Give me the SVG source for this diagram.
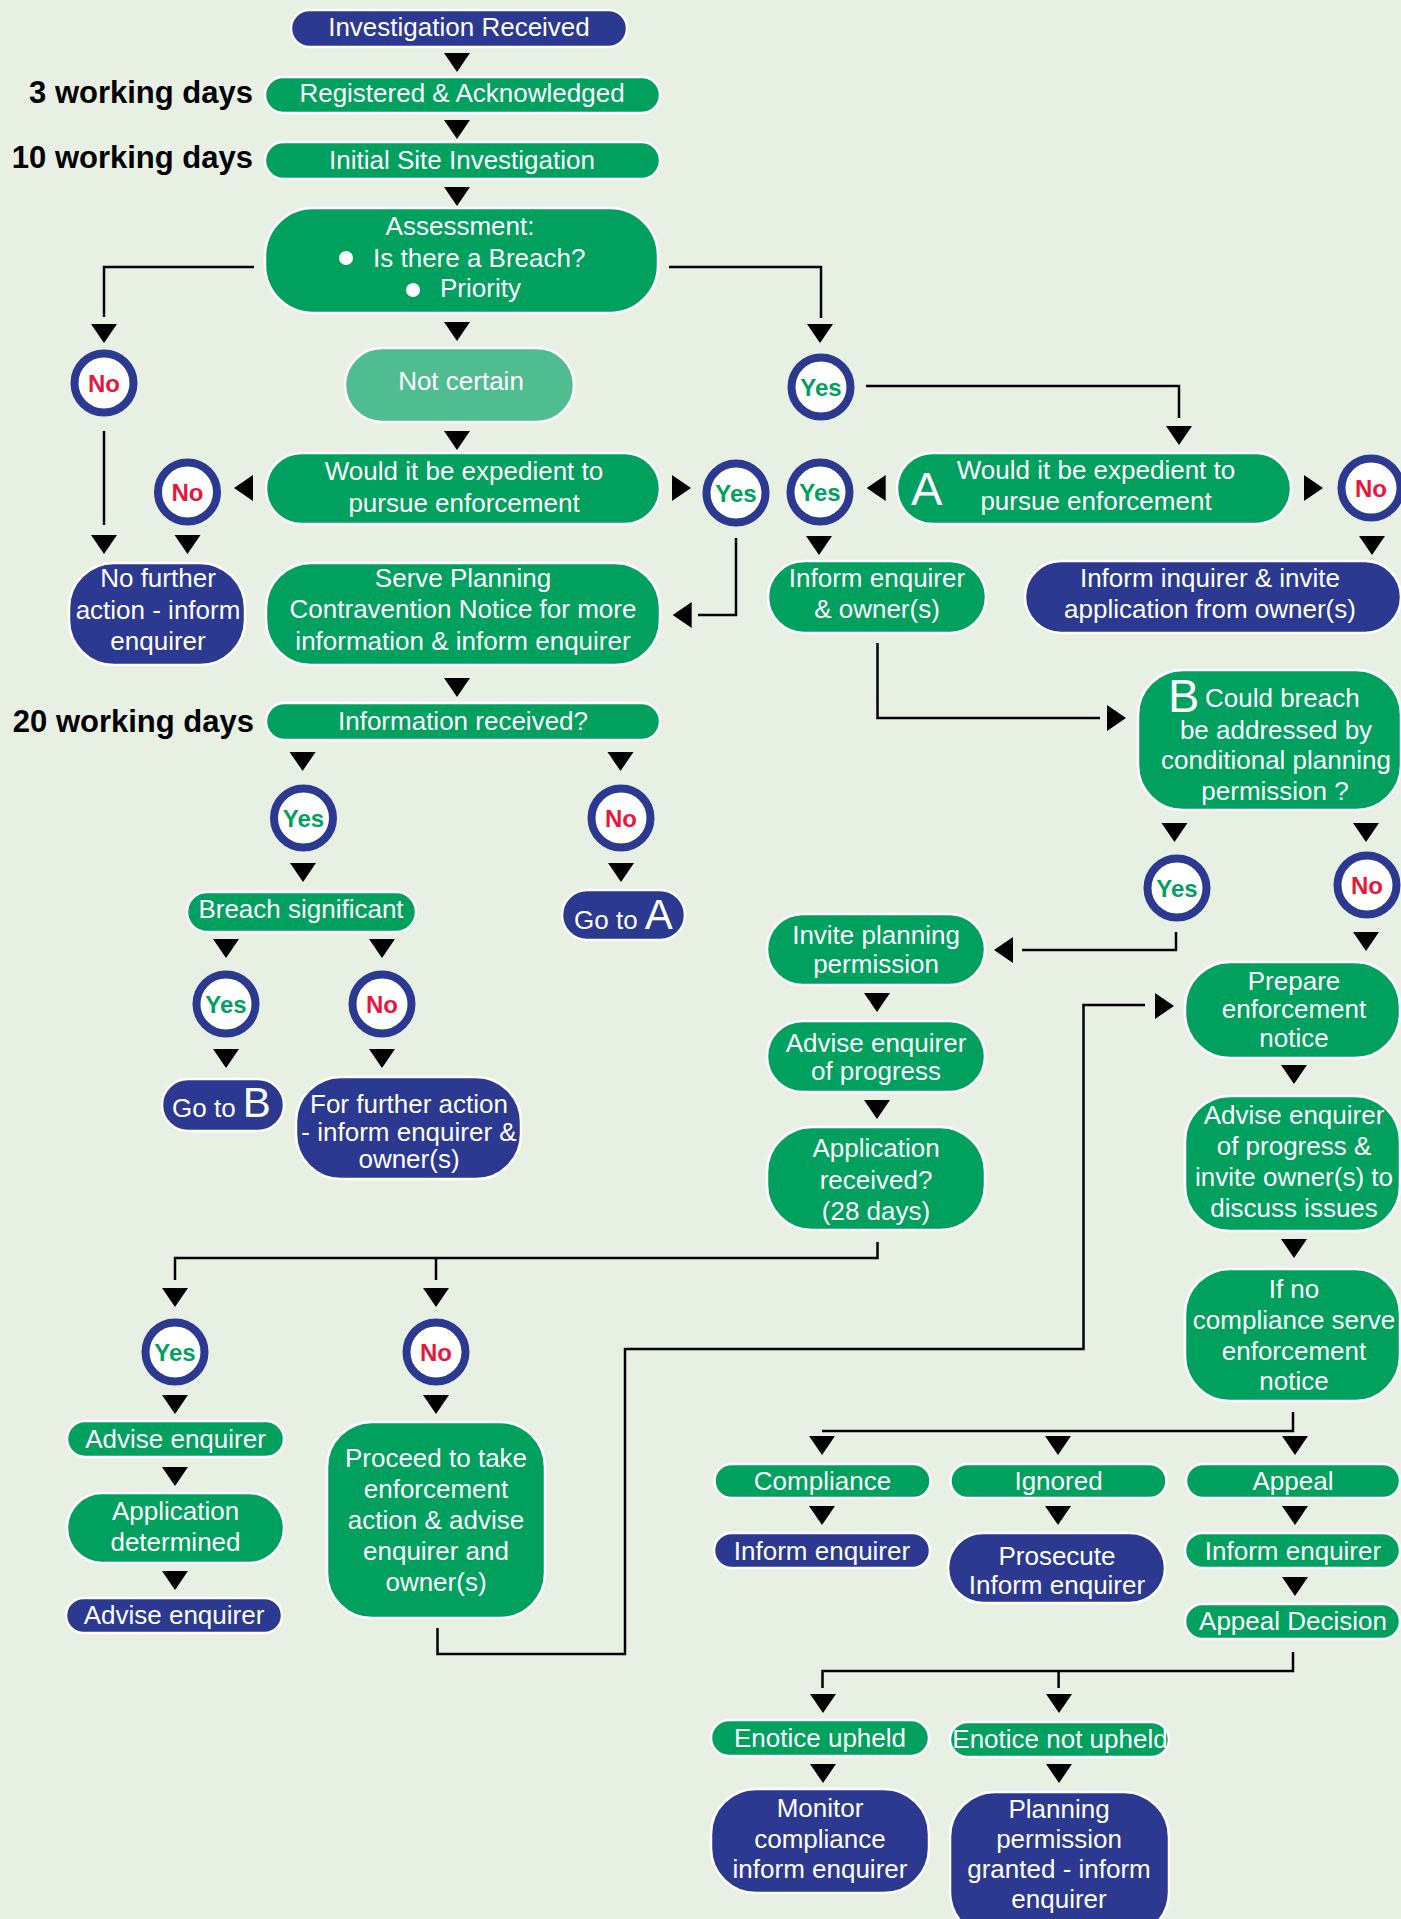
<svg xmlns="http://www.w3.org/2000/svg" xmlns:xlink="http://www.w3.org/1999/xlink" width="1401" height="1919" viewBox="0 0 1401 1919">
<style>
.g{fill:#00a05f;stroke:#fff;stroke-width:2.5}
.b{fill:#2b3990;stroke:#fff;stroke-width:2.5}
.lg{fill:#4fbd8f;stroke:#fff;stroke-width:2.5}
text{font-family:'Liberation Sans',Arial,Helvetica,sans-serif}
.t{font-size:26px;fill:#fff;text-anchor:middle}
.ts{font-size:26px;fill:#fff}
.big{font-size:47px;fill:#fff}
.lbl{font-size:31px;font-weight:bold;fill:#000;text-anchor:end}
.c{fill:#fff;stroke:#2b3990;stroke-width:8}
.yes{font-size:24px;font-weight:bold;fill:#00a05f;text-anchor:middle}
.no{font-size:24px;font-weight:bold;fill:#e5173d;text-anchor:middle}
.ln{fill:none;stroke:#000;stroke-width:2.5}
.ar{fill:#000}
</style>
<defs>
<path id="dn" d="M-13,0 L13,0 L0,19 Z"/>
<path id="lt" d="M0,-13 L0,13 L-19,0 Z"/>
<path id="rt" d="M0,-13 L0,13 L19,0 Z"/>
</defs>
<rect width="1401" height="1919" fill="#e8f0e4"/>

<g id="labels">
<text class="lbl" x="253" y="103">3 working days</text>
<text class="lbl" x="253" y="168">10 working days</text>
<text class="lbl" x="254" y="732">20 working days</text>
</g>

<g id="connectors">
<path class="ln" d="M254,267 H104 V317"/>
<path class="ln" d="M669,267 H821 V318"/>
<path class="ln" d="M104,431 V525"/>
<path class="ln" d="M866,386 H1179 V418"/>
<path class="ln" d="M736,538 V615 H698"/>
<path class="ln" d="M877.5,643 V718 H1100"/>
<path class="ln" d="M1176,932 V950 H1022"/>
<path class="ln" d="M877.5,1242 V1258 H175 V1280 M436,1258 V1280"/>
<path class="ln" d="M437.5,1628 V1654 H625 V1349 H1083.5 V1005 H1145"/>
<path class="ln" d="M1293,1412 V1431 H822"/>
<path class="ln" d="M1293,1652 V1671 H822.5 V1688 M1058.6,1671 V1688"/>
<g class="ar">
<use xlink:href="#dn" x="457" y="53"/>
<use xlink:href="#dn" x="457" y="120"/>
<use xlink:href="#dn" x="457" y="187"/>
<use xlink:href="#dn" x="104" y="324"/>
<use xlink:href="#dn" x="820" y="324"/>
<use xlink:href="#dn" x="457" y="322"/>
<use xlink:href="#dn" x="457" y="431"/>
<use xlink:href="#dn" x="104" y="535"/>
<use xlink:href="#dn" x="187.5" y="535"/>
<use xlink:href="#dn" x="1179" y="426"/>
<use xlink:href="#dn" x="819" y="536"/>
<use xlink:href="#dn" x="1372" y="536"/>
<use xlink:href="#dn" x="457" y="678"/>
<use xlink:href="#dn" x="302.6" y="752"/>
<use xlink:href="#dn" x="620.5" y="752"/>
<use xlink:href="#dn" x="303" y="863"/>
<use xlink:href="#dn" x="621" y="863"/>
<use xlink:href="#dn" x="226" y="939"/>
<use xlink:href="#dn" x="382" y="939"/>
<use xlink:href="#dn" x="226" y="1049"/>
<use xlink:href="#dn" x="382" y="1049"/>
<use xlink:href="#dn" x="1174.5" y="823"/>
<use xlink:href="#dn" x="1366" y="823"/>
<use xlink:href="#dn" x="1366" y="932"/>
<use xlink:href="#dn" x="877" y="993"/>
<use xlink:href="#dn" x="877" y="1100"/>
<use xlink:href="#dn" x="175" y="1288"/>
<use xlink:href="#dn" x="436" y="1288"/>
<use xlink:href="#dn" x="175" y="1395"/>
<use xlink:href="#dn" x="436" y="1395"/>
<use xlink:href="#dn" x="175" y="1467"/>
<use xlink:href="#dn" x="175" y="1571"/>
<use xlink:href="#dn" x="1294" y="1065"/>
<use xlink:href="#dn" x="1294" y="1239"/>
<use xlink:href="#dn" x="822" y="1436"/>
<use xlink:href="#dn" x="1058" y="1436"/>
<use xlink:href="#dn" x="1295" y="1436"/>
<use xlink:href="#dn" x="822" y="1506"/>
<use xlink:href="#dn" x="1058" y="1506"/>
<use xlink:href="#dn" x="1295" y="1506"/>
<use xlink:href="#dn" x="1295" y="1577"/>
<use xlink:href="#dn" x="823" y="1694"/>
<use xlink:href="#dn" x="1059" y="1694"/>
<use xlink:href="#dn" x="823" y="1764"/>
<use xlink:href="#dn" x="1059" y="1764"/>
<use xlink:href="#lt" x="253" y="488"/>
<use xlink:href="#lt" x="885.7" y="488"/>
<use xlink:href="#lt" x="691.7" y="615"/>
<use xlink:href="#lt" x="1013" y="950"/>
<use xlink:href="#rt" x="672" y="488"/>
<use xlink:href="#rt" x="1304" y="488"/>
<use xlink:href="#rt" x="1107" y="718"/>
<use xlink:href="#rt" x="1155" y="1006"/>
</g>
</g>

<g id="n-investigation"><rect class="b" x="291" y="10" width="336" height="37" rx="18.5"/><text class="t" x="459" y="36">Investigation Received</text></g>
<g id="n-registered"><rect class="g" x="265" y="77" width="395" height="36" rx="18"/><text class="t" x="462" y="102">Registered &amp; Acknowledged</text></g>
<g id="n-initial"><rect class="g" x="265" y="142" width="395" height="37" rx="18.5"/><text class="t" x="462" y="169">Initial Site Investigation</text></g>
<g id="n-assessment"><rect class="g" x="265" y="208" width="393" height="105" rx="48"/>
<text class="t" x="460" y="235">Assessment:</text>
<circle cx="346" cy="258" r="7" fill="#fff"/><text class="ts" x="373" y="267">Is there a Breach?</text>
<circle cx="413" cy="290" r="7" fill="#fff"/><text class="ts" x="440" y="297">Priority</text></g>
<g id="n-notcertain"><rect class="lg" x="345" y="348" width="229" height="74" rx="37"/><text class="t" x="461" y="390">Not certain</text></g>
<g id="n-expedient1"><rect class="g" x="266" y="453" width="394" height="71" rx="35.5"/><text class="t" x="464" y="480">Would it be expedient to</text><text class="t" x="464" y="512">pursue enforcement</text></g>
<g id="n-nofurther"><rect class="b" x="69" y="563" width="176" height="102" rx="45"/><text class="t" x="158" y="587">No further</text><text class="t" x="158" y="619">action - inform</text><text class="t" x="158" y="650">enquirer</text></g>
<g id="n-serve"><rect class="g" x="266" y="563" width="394" height="102" rx="45"/><text class="t" x="463" y="587">Serve Planning</text><text class="t" x="463" y="618">Contravention Notice for more</text><text class="t" x="463" y="650">information &amp; inform enquirer</text></g>
<g id="n-inforeceived"><rect class="g" x="266" y="703" width="394" height="37" rx="18.5"/><text class="t" x="463" y="730">Information received?</text></g>
<g id="n-breach"><rect class="g" x="187" y="892" width="229" height="40" rx="20"/><text class="t" x="301" y="918">Breach significant</text></g>
<g id="n-gotoA"><rect class="b" x="562" y="890" width="123" height="50" rx="25"/><text class="ts" x="574" y="929">Go to <tspan font-size="42">A</tspan></text></g>
<g id="n-gotoB"><rect class="b" x="162" y="1079" width="122" height="52" rx="26"/><text class="ts" x="172" y="1117">Go to <tspan font-size="42">B</tspan></text></g>
<g id="n-furtheraction"><rect class="b" x="296" y="1077" width="225" height="102" rx="45"/><text class="t" x="409" y="1113">For further action</text><text class="t" x="409" y="1141">- inform enquirer &amp;</text><text class="t" x="409" y="1168">owner(s)</text></g>
<g id="n-expedientA"><rect class="g" x="897" y="453" width="394" height="71" rx="35.5"/><text class="big" x="911" y="505" font-size="48">A</text><text class="t" x="1096" y="479">Would it be expedient to</text><text class="t" x="1096" y="510">pursue enforcement</text></g>
<g id="n-informowners"><rect class="g" x="768" y="561" width="218" height="72" rx="36"/><text class="t" x="877" y="587">Inform enquirer</text><text class="t" x="877" y="618">&amp; owner(s)</text></g>
<g id="n-inviteapp"><rect class="b" x="1025" y="561" width="376" height="72" rx="36"/><text class="t" x="1210" y="587">Inform inquirer &amp; invite</text><text class="t" x="1210" y="618">application from owner(s)</text></g>
<g id="n-B"><rect class="g" x="1138" y="670" width="263" height="140" rx="45"/><text class="big" x="1168" y="712">B</text><text class="ts" x="1205" y="707">Could breach</text><text class="t" x="1276" y="739">be addressed by</text><text class="t" x="1276" y="769">conditional planning</text><text class="t" x="1275" y="800">permission ?</text></g>
<g id="n-inviteplanning"><rect class="g" x="767" y="914" width="218" height="71" rx="35.5"/><text class="t" x="876" y="944">Invite planning</text><text class="t" x="876" y="973">permission</text></g>
<g id="n-adviseprogress"><rect class="g" x="767" y="1021" width="218" height="71" rx="35.5"/><text class="t" x="876" y="1052">Advise enquirer</text><text class="t" x="876" y="1080">of progress</text></g>
<g id="n-appreceived"><rect class="g" x="767" y="1127" width="218" height="103" rx="45"/><text class="t" x="876" y="1157">Application</text><text class="t" x="876" y="1189">received?</text><text class="t" x="876" y="1220">(28 days)</text></g>
<g id="n-prepare"><rect class="g" x="1185" y="962" width="215" height="96" rx="45"/><text class="t" x="1294" y="990">Prepare</text><text class="t" x="1294" y="1018">enforcement</text><text class="t" x="1294" y="1047">notice</text></g>
<g id="n-adviseinvite"><rect class="g" x="1185" y="1096" width="215" height="135" rx="45"/><text class="t" x="1294" y="1124">Advise enquirer</text><text class="t" x="1294" y="1155">of progress &amp;</text><text class="t" x="1294" y="1186">invite owner(s) to</text><text class="t" x="1294" y="1217">discuss issues</text></g>
<g id="n-ifno"><rect class="g" x="1185" y="1269" width="215" height="132" rx="45"/><text class="t" x="1294" y="1298">If no</text><text class="t" x="1294" y="1329">compliance serve</text><text class="t" x="1294" y="1360">enforcement</text><text class="t" x="1294" y="1390">notice</text></g>
<g id="n-advise1"><rect class="g" x="67" y="1421" width="217" height="36" rx="18"/><text class="t" x="175.5" y="1448">Advise enquirer</text></g>
<g id="n-appdetermined"><rect class="g" x="67" y="1493" width="217" height="70" rx="35"/><text class="t" x="175.5" y="1520">Application</text><text class="t" x="175.5" y="1551">determined</text></g>
<g id="n-advise2"><rect class="b" x="66" y="1598" width="216" height="35" rx="17.5"/><text class="t" x="174" y="1624">Advise enquirer</text></g>
<g id="n-proceed"><rect class="g" x="327" y="1422" width="218" height="196" rx="45"/><text class="t" x="436" y="1467">Proceed to take</text><text class="t" x="436" y="1498">enforcement</text><text class="t" x="436" y="1529">action &amp; advise</text><text class="t" x="436" y="1560">enquirer and</text><text class="t" x="436" y="1591">owner(s)</text></g>
<g id="n-compliance"><rect class="g" x="714.5" y="1464" width="216" height="34" rx="17"/><text class="t" x="822.5" y="1490">Compliance</text></g>
<g id="n-ignored"><rect class="g" x="950.5" y="1464" width="216" height="34" rx="17"/><text class="t" x="1058.5" y="1490">Ignored</text></g>
<g id="n-appeal"><rect class="g" x="1186" y="1464" width="214" height="34" rx="17"/><text class="t" x="1293" y="1490">Appeal</text></g>
<g id="n-informC"><rect class="b" x="714" y="1533" width="216" height="35" rx="17.5"/><text class="t" x="822" y="1560">Inform enquirer</text></g>
<g id="n-prosecute"><rect class="b" x="948" y="1533" width="217" height="70" rx="35"/><text class="t" x="1057" y="1565">Prosecute</text><text class="t" x="1057" y="1594">Inform enquirer</text></g>
<g id="n-informA"><rect class="g" x="1185" y="1533" width="215" height="35" rx="17.5"/><text class="t" x="1293" y="1560">Inform enquirer</text></g>
<g id="n-appealdecision"><rect class="g" x="1185" y="1604" width="215" height="35" rx="17.5"/><text class="t" x="1293" y="1630">Appeal Decision</text></g>
<g id="n-upheld"><rect class="g" x="711" y="1720" width="218" height="36" rx="18"/><text class="t" x="820" y="1747">Enotice upheld</text></g>
<g id="n-notupheld"><rect class="g" x="950" y="1722" width="219" height="35" rx="17.5"/><text class="t" x="1060" y="1748">Enotice not upheld</text></g>
<g id="n-monitor"><rect class="b" x="711" y="1789" width="218" height="104" rx="45"/><text class="t" x="820" y="1817">Monitor</text><text class="t" x="820" y="1848">compliance</text><text class="t" x="820" y="1878">inform enquirer</text></g>
<g id="n-planning"><rect class="b" x="950" y="1792" width="219" height="145" rx="45"/><text class="t" x="1059" y="1818">Planning</text><text class="t" x="1059" y="1848">permission</text><text class="t" x="1059" y="1878">granted - inform</text><text class="t" x="1059" y="1908">enquirer</text></g>

<g id="d-no1"><circle class="c" cx="104" cy="383" r="29.5"/><text class="no" x="104" y="391.5">No</text></g>
<g id="d-yes1"><circle class="c" cx="821" cy="387" r="29.5"/><text class="yes" x="821" y="395.5">Yes</text></g>
<g id="d-no2"><circle class="c" cx="187.5" cy="492" r="29.5"/><text class="no" x="187.5" y="500.5">No</text></g>
<g id="d-yes2"><circle class="c" cx="736" cy="493" r="29.5"/><text class="yes" x="736" y="501.5">Yes</text></g>
<g id="d-yes3"><circle class="c" cx="820" cy="492" r="29.5"/><text class="yes" x="820" y="500.5">Yes</text></g>
<g id="d-no3"><circle class="c" cx="1371" cy="488" r="29.5"/><text class="no" x="1371" y="496.5">No</text></g>
<g id="d-yes4"><circle class="c" cx="303.5" cy="818" r="29.5"/><text class="yes" x="303.5" y="826.5">Yes</text></g>
<g id="d-no4"><circle class="c" cx="621" cy="818" r="29.5"/><text class="no" x="621" y="826.5">No</text></g>
<g id="d-yes5"><circle class="c" cx="226" cy="1004" r="29.5"/><text class="yes" x="226" y="1012.5">Yes</text></g>
<g id="d-no5"><circle class="c" cx="382" cy="1004" r="29.5"/><text class="no" x="382" y="1012.5">No</text></g>
<g id="d-yes6"><circle class="c" cx="1177" cy="888" r="29.5"/><text class="yes" x="1177" y="896.5">Yes</text></g>
<g id="d-no6"><circle class="c" cx="1367" cy="885" r="29.5"/><text class="no" x="1367" y="893.5">No</text></g>
<g id="d-yes7"><circle class="c" cx="175" cy="1352" r="29.5"/><text class="yes" x="175" y="1360.5">Yes</text></g>
<g id="d-no7"><circle class="c" cx="436" cy="1352" r="29.5"/><text class="no" x="436" y="1360.5">No</text></g>
</svg>
